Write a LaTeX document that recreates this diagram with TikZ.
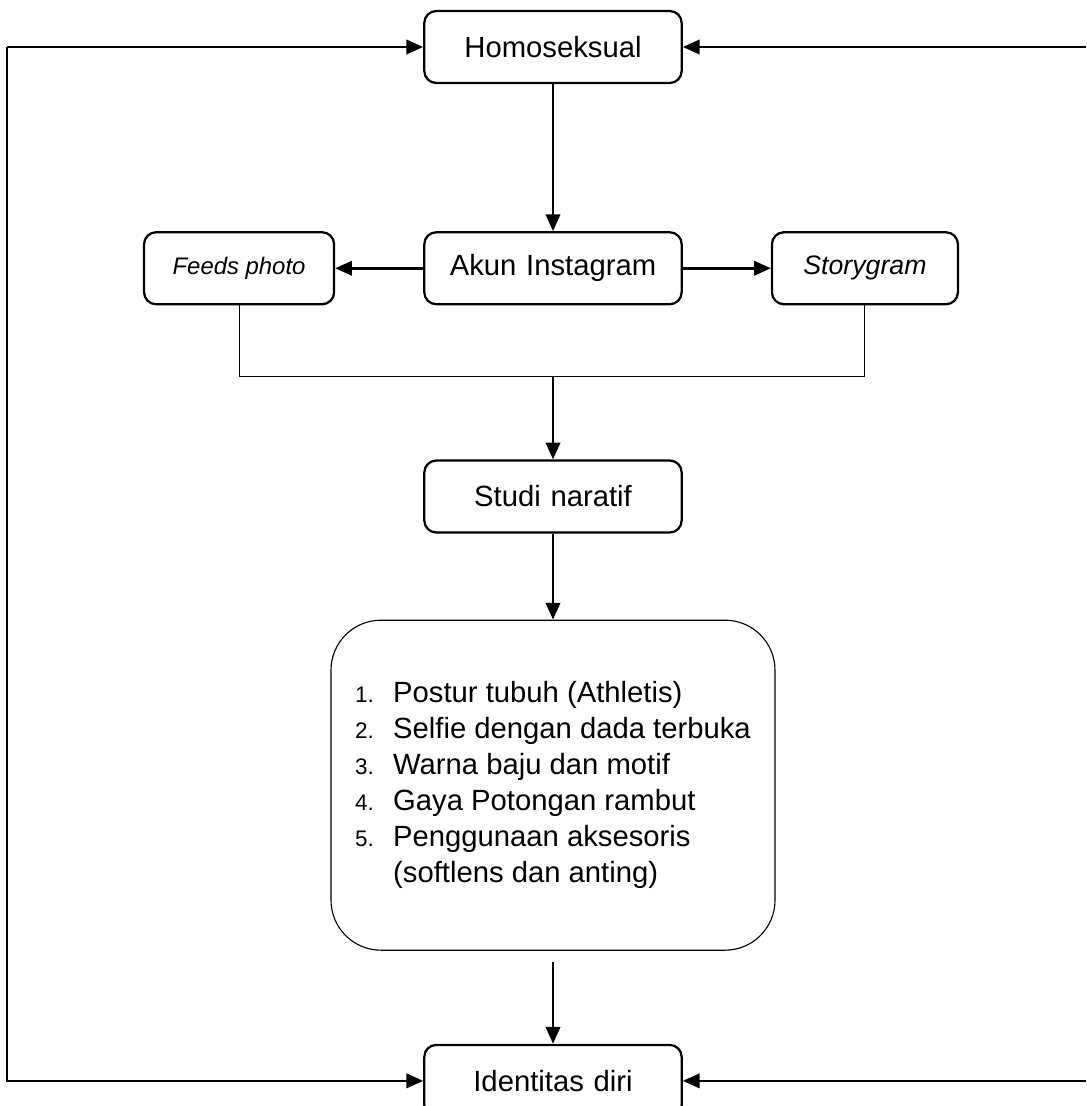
\documentclass[tikz,border=0pt]{standalone}
\usepackage{fontspec}
\setmainfont{Liberation Sans}
\usetikzlibrary{arrows.meta,positioning}
\newcommand\itemnum[1]{\makebox[0.95cm][l]{\fontsize{16}{19}\selectfont #1}}

\begin{document}
\begin{tikzpicture}[
    node distance=3.7cm and 2.2cm,
    box/.style={draw,line width=1.6pt,rounded corners=0.3cm,align=center,minimum height=1.8cm,text width=6.2cm,font=\fontsize{20.8}{25}\selectfont},
    side/.style={draw,line width=1.6pt,rounded corners=0.3cm,align=center,minimum height=1.8cm,font=\itshape},
    listbox/.style={draw,line width=0.8pt,rounded corners=1.25cm,align=left,minimum width=11.1cm,minimum height=8.25cm,font=\fontsize{20.8}{25.6}\selectfont},
    line/.style={-{Triangle[length=4.2mm,width=3.6mm]},line width=1.8pt},
    thinline/.style={line width=0.7pt}
]
    \clip (0,0) rectangle (27.15,-27.65);
    \node[box] (homo) at (13.825,-1.175) {Homoseksual};
    \node[box,below=3.675cm of homo] (akun) {Akun Instagram};
    \node[side,left=of akun,minimum width=4.75cm] (feeds) {\fontsize{17}{20}\selectfont Feeds photo};
    \node[side,right=of akun,minimum width=4.65cm] (story) {\fontsize{19}{22}\selectfont Storygram};
    \coordinate[below=1.775cm of akun] (jn);
    \node[box,below=3.85cm of akun] (studi) {Studi naratif};
    \node[listbox,below=2.15cm of studi] (ciri) {%
        \itemnum{1.}Postur tubuh (Athletis)\\
        \itemnum{2.}Selfie dengan dada terbuka\\
        \itemnum{3.}Warna baju dan motif\\
        \itemnum{4.}Gaya Potongan rambut\\
        \itemnum{5.}Penggunaan aksesoris\\
        \itemnum{}(softlens dan anting)};
    \node[box,below=2.325cm of ciri] (idr) {Identitas diri};

    \coordinate (lx) at (0.175,0);
    \coordinate (rx) at (27.3,0);

    \draw[line] (homo)--(akun);
    \draw[line] (akun)--(feeds);
    \draw[line] (akun)--(story);
    \draw[thinline] (feeds.south) |- (jn) -| (story.south);
    \draw[line] (jn)--(studi);
    \draw[line] (studi)--(ciri);
    \draw[line,shorten <=0.275cm] (ciri)--(idr);
    \draw[line] (lx |- homo)--(homo);
    \draw[line] (lx |- homo)--(lx |- idr)--(idr);
    \draw[line] (rx |- homo)--(homo);
    \draw[line] (rx |- idr)--(idr);
\end{tikzpicture}
\end{document}
